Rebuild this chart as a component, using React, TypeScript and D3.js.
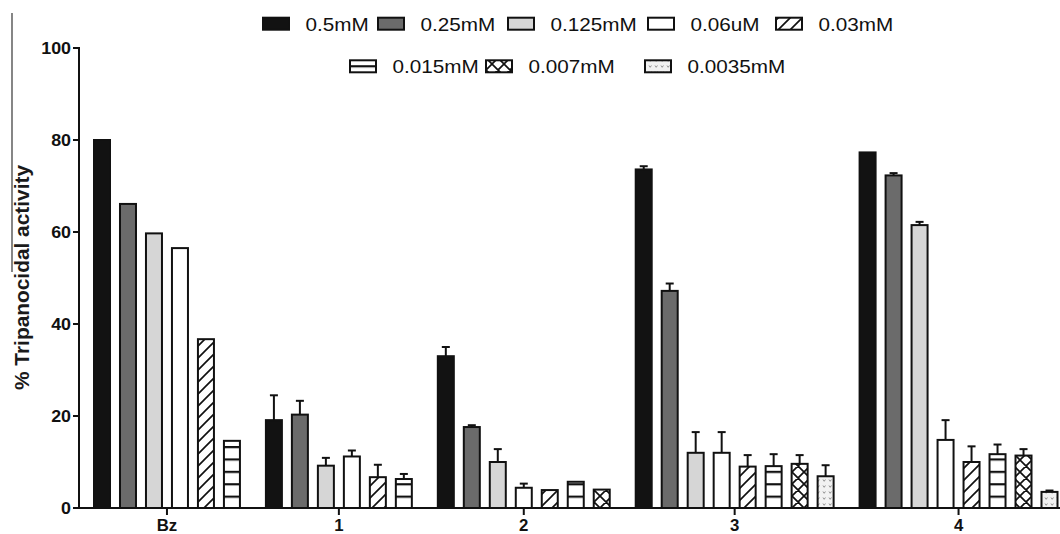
import React from 'react';
import * as d3 from 'd3';

// compounds on the x axis
const groups = ['Bz', '1', '2', '3', '4'];

// concentrations (legend order)
const series = ['0.5mM', '0.25mM', '0.125mM', '0.06uM', '0.03mM', '0.015mM', '0.007mM', '0.0035mM'];

// mean % activity per series, one value per group (null = not tested)
const v05 = [80.0, 19.1, 33.0, 73.6, 77.3];
const v025 = [66.1, 20.3, 17.6, 47.2, 72.3];
const v0125 = [59.7, 9.2, 10.0, 12.0, 61.5];
const v006 = [56.5, 11.2, 4.4, 12.0, 14.8];
const v003 = [36.7, 6.7, 3.9, 9.0, 10.0];
const v0015 = [14.6, 6.3, 5.7, 9.1, 11.7];
const v0007 = [null, null, 4.0, 9.6, 11.4];
const v00035 = [null, null, null, 6.9, 3.5];

// upper error (SD) per series
const e05 = [0, 5.4, 2.0, 0.7, 0];
const e025 = [0, 3.0, 0.4, 1.6, 0.5];
const e0125 = [0, 1.7, 2.8, 4.5, 0.7];
const e006 = [0, 1.3, 0.9, 4.5, 4.3];
const e003 = [0, 2.7, 0, 2.5, 3.4];
const e0015 = [0, 1.1, 0, 2.6, 2.1];
const e0007 = [0, 0, 0, 1.9, 1.4];
const e00035 = [0, 0, 0, 2.4, 0.3];

const yTicks = [0, 20, 40, 60, 80, 100];

const means: (number | null)[][] = [v05, v025, v0125, v006, v003, v0015, v0007, v00035];
const errs: number[][] = [e05, e025, e0125, e006, e003, e0015, e0007, e00035];

const fills = ['#121212', '#6b6b6b', '#d6d6d6', '#ffffff', 'url(#diag)', 'url(#horiz)', 'url(#cross)', 'url(#dots)'];

// legend layout: row and left edge of swatch
const legendRow = [0, 0, 0, 0, 0, 1, 1, 1];
const legendX = [262, 377, 507, 647, 775, 349, 485, 644];
const legendRowY = [23.7, 66.3];

const FONT = '"Liberation Sans", Arial, sans-serif';
const STRETCH = 1.15;

const W = 1060;
const H = 534;
const axisX = 79;
const BAR_W = 18;
const GAP = 16 / 26; // extra space between groups, in bar slots

interface Bar {
  g: number;
  s: number;
  value: number;
  err: number;
  p: number;
}

export default function App() {
  const bars: Bar[] = [];
  let idx = 0;
  groups.forEach((_, g) => {
    series.forEach((_, s) => {
      const v = means[s][g];
      if (v == null) return;
      bars.push({ g, s, value: v, err: errs[s][g], p: idx + g * GAP });
      idx++;
    });
  });
  const lastP = d3.max(bars, d => d.p)!;

  const x = d3.scaleLinear().domain([0, lastP]).range([93, 1040.5]);
  const y = d3.scaleLinear().domain([0, 100]).range([508, 48]);

  const groupCenters = groups.map((_, g) => {
    const gb = bars.filter(b => b.g === g);
    return (x(gb[0].p) + x(gb[gb.length - 1].p) + BAR_W) / 2;
  });

  const stroke = '#111';

  return (
    <svg width={W} height={H} style={{ position: 'absolute', left: 0, top: 0, background: '#fff' }}
      fontFamily={FONT}>
      <defs>
        <pattern id="diag" patternUnits="userSpaceOnUse" width={12} height={12} y={y(0)}>
          <rect width={12} height={12} fill="#fff" />
          <path d="M0,12 L12,0 M-3,3 L3,-3 M9,15 L15,9" stroke={stroke} strokeWidth={1.7} />
        </pattern>
        <pattern id="horiz" patternUnits="userSpaceOnUse" width={12} height={12.4} y={y(0)}>
          <rect width={12} height={12.4} fill="#fff" />
          <rect width={12} height={2.2} y={0} fill={stroke} />
        </pattern>
        <pattern id="horizL" patternUnits="userSpaceOnUse" width={12} height={30} y={legendRowY[1] - 1.1}>
          <rect width={12} height={30} fill="#fff" />
          <rect width={12} height={2.2} y={0} fill={stroke} />
        </pattern>
        <pattern id="cross" patternUnits="userSpaceOnUse" width={12} height={12} y={y(0)}>
          <rect width={12} height={12} fill="#fff" />
          <path d="M0,12 L12,0 M-3,3 L3,-3 M9,15 L15,9 M0,0 L12,12 M-3,9 L3,15 M9,-3 L15,3" stroke={stroke} strokeWidth={1.7} />
        </pattern>
        <pattern id="dots" patternUnits="userSpaceOnUse" width={6} height={6} y={y(0)}>
          <rect width={6} height={6} fill="#f2f2f2" />
          <path d="M1,1.5 L2.2,3.3 L3.4,1.5" stroke="#777" strokeWidth={0.8} fill="none" />
        </pattern>
      </defs>

      {/* stray scan line at the far left */}
      <line x1={12} x2={12} y1={13} y2={272} stroke="#444" strokeWidth={1.3} />

      {/* bars */}
      {bars.map((b, i) => {
        const bx = x(b.p);
        const top = y(b.value);
        const cx = bx + BAR_W / 2;
        return (
          <g key={i}>
            {b.err > 0 && (
              <g stroke={stroke} strokeWidth={2}>
                <line x1={cx} x2={cx} y1={top} y2={y(b.value + b.err)} />
                <line x1={cx - 4} x2={cx + 4} y1={y(b.value + b.err)} y2={y(b.value + b.err)} />
              </g>
            )}
            <rect x={bx + 1} y={top} width={BAR_W - 2} height={y(0) - top}
              fill={fills[b.s]} stroke={stroke} strokeWidth={2} />
          </g>
        );
      })}

      {/* y axis */}
      <line x1={axisX} x2={axisX} y1={y(100) - 1} y2={y(0) + 1} stroke={stroke} strokeWidth={2} />
      {yTicks.map(t => (
        <g key={t}>
          <line x1={axisX - 6} x2={axisX} y1={y(t)} y2={y(t)} stroke={stroke} strokeWidth={2} />
          <text transform={`translate(${axisX - 8},${y(t) + 6}) scale(1.05,1)`}
            textAnchor="end" fontSize={17} fontWeight="bold" fill="#111">{t}</text>
        </g>
      ))}
      <text transform={`translate(29,277.5) scale(${STRETCH},1) rotate(-90)`}
        textAnchor="middle" fontSize={17} fontWeight="bold" fill="#1a1a1a" textLength={225} lengthAdjust="spacingAndGlyphs">
        % Tripanocidal activity
      </text>

      {/* x axis */}
      <line x1={axisX - 6} x2={W} y1={y(0)} y2={y(0)} stroke={stroke} strokeWidth={2} />
      {groups.map((g, i) => (
        <g key={g}>
          <line x1={groupCenters[i]} x2={groupCenters[i]} y1={y(0)} y2={y(0) + 7} stroke={stroke} strokeWidth={2} />
          <text transform={`translate(${groupCenters[i]},531) scale(1.05,1)`}
            textAnchor="middle" fontSize={16} fontWeight="bold" fill="#111">{g}</text>
        </g>
      ))}

      {/* legend */}
      {series.map((s, i) => {
        const cy = legendRowY[legendRow[i]];
        const fill = fills[i] === 'url(#horiz)' ? 'url(#horizL)' : fills[i];
        return (
          <g key={s}>
            <rect x={legendX[i] + 1} y={cy - 6} width={26} height={12}
              fill={fill} stroke={stroke} strokeWidth={2} />
            <text transform={`translate(${legendX[i] + 43.5},${cy + 7}) scale(${STRETCH},1)`}
              fontSize={18} fill="#111">{s}</text>
          </g>
        );
      })}
    </svg>
  );
}
